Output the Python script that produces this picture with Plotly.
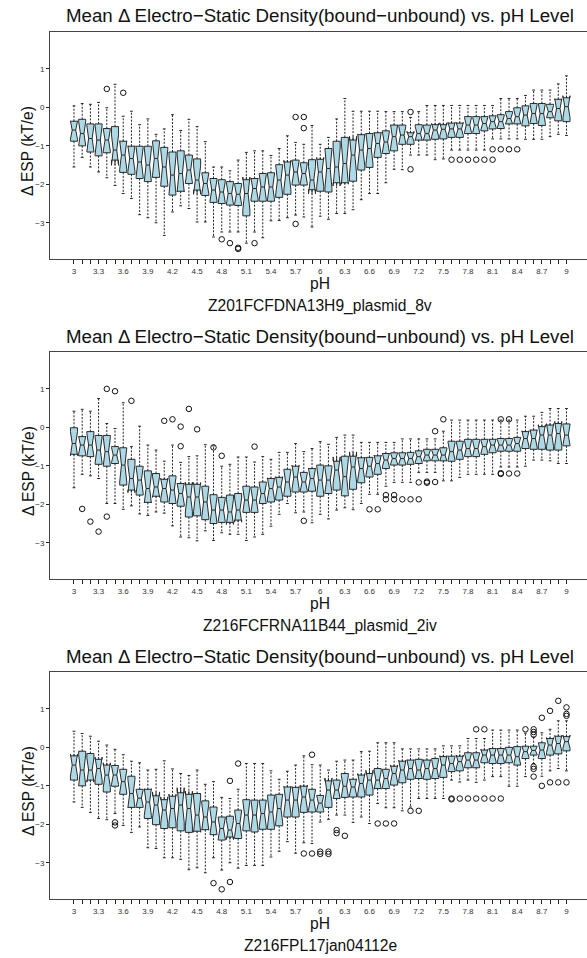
import plotly.graph_objects as go

# ---------------- data ----------------
ph = [3.0, 3.1, 3.2, 3.3, 3.4, 3.5, 3.6, 3.7, 3.8, 3.9,
      4.0, 4.1, 4.2, 4.3, 4.4, 4.5, 4.6, 4.7, 4.8, 4.9,
      5.0, 5.1, 5.2, 5.3, 5.4, 5.5, 5.6, 5.7, 5.8, 5.9,
      6.0, 6.1, 6.2, 6.3, 6.4, 6.5, 6.6, 6.7, 6.8, 6.9,
      7.0, 7.1, 7.2, 7.3, 7.4, 7.5, 7.6, 7.7, 7.8, 7.9,
      8.0, 8.1, 8.2, 8.3, 8.4, 8.5, 8.6, 8.7, 8.8, 8.9, 9.0]

y_ticks = [-3, -2, -1, 0, 1]

main_title = "Mean \u0394 Electro\u2212Static Density(bound\u2212unbound) vs. pH Level"
x_title = "pH"
y_title = "\u0394 ESP (kT/e)"
dataset_names = ["Z201FCFDNA13H9_plasmid_8v", "Z216FCFRNA11B44_plasmid_2iv", "Z216FPL17jan04112e"]

# ---- panel 1 ----
p1_lo = [-1.55, -1.30, -1.55, -1.68, -1.83, -2.03, -2.24, -2.37, -2.79, -2.87,
         -3.00, -3.33, -2.72, -2.56, -2.63, -2.98, -2.98, -3.37, -3.24, -3.24,
         -3.24, -3.53, -3.24, -3.39, -2.95, -2.94, -2.87, -2.80, -2.85, -3.11,
         -2.83, -2.91, -2.76, -2.76, -2.66, -2.40, -2.24, -2.24, -1.96, -1.61,
         -1.62, -1.24, -1.24, -1.24, -1.36, -1.34, -1.11, -1.11, -1.11, -1.11,
         -1.11, -0.82, -0.82, -0.82, -0.82, -0.83, -0.83, -0.83, -0.76, -0.70, -0.73]
p1_q1 = [-0.88, -1.00, -1.16, -1.26, -1.18, -1.37, -1.69, -1.74, -1.85, -1.93,
         -1.82, -2.05, -2.28, -2.18, -1.98, -2.15, -2.29, -2.47, -2.50, -2.54,
         -2.55, -2.82, -2.44, -2.44, -2.44, -2.34, -2.26, -2.02, -2.02, -2.14,
         -2.18, -2.20, -1.96, -1.96, -1.92, -1.63, -1.56, -1.30, -1.20, -1.13,
         -0.96, -0.96, -0.85, -0.85, -0.83, -0.82, -0.78, -0.78, -0.68, -0.68,
         -0.61, -0.56, -0.55, -0.43, -0.43, -0.48, -0.42, -0.47, -0.27, -0.35, -0.37]
p1_med = [-0.59, -0.68, -0.81, -0.85, -0.85, -1.11, -1.24, -1.33, -1.42, -1.50,
          -1.33, -1.55, -1.76, -1.72, -1.63, -1.89, -1.98, -2.15, -2.20, -2.24,
          -2.26, -2.24, -2.11, -2.07, -2.07, -1.89, -1.76, -1.68, -1.72, -1.89,
          -1.68, -1.59, -1.55, -1.46, -1.24, -1.11, -1.07, -0.94, -0.90, -0.76,
          -0.72, -0.76, -0.68, -0.68, -0.59, -0.57, -0.56, -0.56, -0.46, -0.46,
          -0.42, -0.37, -0.37, -0.29, -0.24, -0.20, -0.16, -0.16, -0.11, -0.03, 0.02]
p1_q3 = [-0.36, -0.31, -0.43, -0.43, -0.55, -0.50, -0.88, -1.01, -1.01, -1.01,
         -0.87, -1.04, -1.16, -1.13, -1.24, -1.34, -1.70, -1.85, -1.88, -1.93,
         -1.98, -1.88, -1.85, -1.72, -1.70, -1.49, -1.42, -1.37, -1.44, -1.36,
         -1.35, -1.07, -0.88, -0.78, -0.85, -0.71, -0.68, -0.66, -0.61, -0.46,
         -0.46, -0.66, -0.45, -0.46, -0.45, -0.45, -0.41, -0.41, -0.24, -0.24,
         -0.24, -0.22, -0.19, -0.11, -0.01, 0.04, 0.10, 0.10, 0.08, 0.21, 0.25]
p1_hi = [0.04, 0.10, 0.08, 0.13, -0.01, 0.60, -0.23, -0.10, -0.45, -0.30,
         -0.70, -0.56, -0.19, -0.60, -0.31, -0.50, -0.89, -1.55, -1.55, -1.65,
         -1.37, -1.17, -1.13, -1.13, -1.25, -1.07, -0.74, -0.91, -0.96, -0.47,
         -0.96, -0.78, -0.30, 0.23, -0.10, -0.10, -0.10, -0.10, -0.11, -0.11,
         -0.11, -0.26, -0.11, 0.05, 0.05, 0.05, 0.05, 0.05, 0.05, 0.05,
         0.05, 0.05, 0.23, 0.23, 0.23, 0.31, 0.45, 0.45, 0.45, 0.61, 0.82]
p1_out_ph = [3.4, 3.6, 4.8, 4.9, 5.0, 5.0, 5.2, 5.7, 5.7, 5.8, 5.8, 7.1, 7.1,
             7.6, 7.7, 7.8, 7.9, 8.0, 8.1, 8.1, 8.2, 8.3, 8.4]
p1_out_val = [0.48, 0.38, -3.43, -3.53, -3.65, -3.68, -3.53, -0.25, -3.03, -0.25, -0.54, -0.12, -1.61,
              -1.36, -1.36, -1.36, -1.36, -1.36, -1.36, -1.09, -1.09, -1.09, -1.09]

# ---- panel 2 ----
p2_lo = [-1.57, -1.22, -1.26, -1.33, -1.98, -1.98, -2.13, -2.04, -2.25, -2.29,
         -2.20, -2.23, -2.56, -2.85, -2.87, -2.95, -2.69, -2.94, -2.74, -2.78,
         -2.78, -2.94, -2.85, -2.78, -2.57, -2.26, -1.98, -2.22, -2.20, -2.48,
         -2.26, -2.38, -2.15, -2.09, -2.14, -1.98, -1.74, -1.74, -1.53, -1.43,
         -1.43, -1.43, -1.17, -1.17, -1.17, -1.39, -1.39, -1.30, -1.22, -1.22,
         -1.22, -1.22, -1.03, -1.03, -1.03, -1.01, -0.85, -0.85, -0.87, -0.94, -0.94]
p2_q1 = [-0.70, -0.74, -0.76, -0.96, -1.01, -0.94, -1.50, -1.63, -1.76, -1.95,
         -1.79, -1.94, -1.98, -2.05, -2.33, -2.30, -2.40, -2.50, -2.47, -2.47,
         -2.41, -2.21, -2.21, -1.98, -1.94, -1.89, -1.79, -1.68, -1.68, -1.66,
         -1.79, -1.72, -1.63, -1.78, -1.61, -1.44, -1.29, -1.22, -1.07, -0.98,
         -0.98, -0.96, -0.94, -0.87, -0.87, -0.87, -0.88, -0.83, -0.76, -0.76,
         -0.70, -0.66, -0.62, -0.62, -0.62, -0.55, -0.57, -0.57, -0.59, -0.59, -0.48]
p2_med = [-0.42, -0.46, -0.46, -0.59, -0.63, -0.72, -0.98, -1.33, -1.37, -1.59,
          -1.55, -1.59, -1.63, -1.72, -1.81, -1.81, -1.94, -2.15, -2.15, -2.20,
          -2.15, -1.89, -1.89, -1.72, -1.59, -1.55, -1.42, -1.29, -1.42, -1.33,
          -1.37, -1.37, -1.11, -1.28, -1.03, -1.07, -1.01, -0.94, -0.85, -0.81,
          -0.81, -0.81, -0.76, -0.72, -0.72, -0.72, -0.63, -0.59, -0.55, -0.55,
          -0.50, -0.46, -0.46, -0.46, -0.42, -0.29, -0.29, -0.20, -0.20, -0.16, -0.20]
p2_q3 = [-0.01, -0.24, -0.11, -0.21, -0.21, -0.50, -0.53, -0.83, -1.01, -1.13,
         -1.20, -1.35, -1.26, -1.46, -1.48, -1.48, -1.53, -1.75, -1.82, -1.76,
         -1.72, -1.53, -1.55, -1.42, -1.33, -1.30, -1.09, -1.01, -1.17, -1.07,
         -0.98, -1.00, -0.88, -0.75, -0.75, -0.79, -0.78, -0.74, -0.68, -0.66,
         -0.66, -0.65, -0.61, -0.57, -0.57, -0.53, -0.36, -0.36, -0.31, -0.31,
         -0.31, -0.31, -0.29, -0.29, -0.26, -0.11, -0.07, 0.02, 0.06, 0.10, 0.09]
p2_hi = [0.42, 0.47, 0.42, 0.75, 0.10, -0.03, 0.64, -0.50, 0.03, -0.46,
         -0.59, -0.88, -0.46, -0.91, -0.76, -0.74, -0.45, -0.48, -1.01, -0.96,
         -0.77, -0.77, -0.90, -0.76, -0.83, -0.65, -0.65, -0.42, -0.63, -0.55,
         -0.37, -0.44, -0.26, -0.20, -0.20, -0.39, -0.39, -0.39, -0.39, -0.39,
         -0.30, -0.30, -0.30, -0.30, -0.30, -0.10, 0.19, 0.19, 0.19, 0.19,
         0.19, 0.19, 0.19, 0.19, 0.19, 0.29, 0.29, 0.39, 0.49, 0.49, 0.49]
p2_out_ph = [3.1, 3.2, 3.3, 3.4, 3.4, 3.5, 3.7, 4.1, 4.2, 4.3, 4.3, 4.4, 4.5, 4.7, 4.8, 5.2, 5.8,
             6.6, 6.7, 6.8, 6.8, 6.9, 6.9, 7.0, 7.1, 7.2, 7.2, 7.3, 7.3, 7.4, 7.4, 7.5,
             8.2, 8.2, 8.2, 8.3, 8.3, 8.4]
p2_out_val = [-2.12, -2.45, -2.71, 1.00, -2.32, 0.94, 0.69, 0.17, 0.21, 0.02, -0.49, 0.48, -0.05, -0.52, -0.74, -0.50, -2.43,
              -2.13, -2.13, -1.76, -1.87, -1.76, -1.87, -1.87, -1.87, -1.87, -1.43, -1.41, -1.44, -1.42, -0.10, 0.21,
              0.21, -1.19, -1.21, 0.21, -1.20, -1.20]

# ---- panel 3 ----
p3_lo = [-1.42, -1.56, -1.69, -1.85, -1.88, -1.72, -2.03, -2.21, -2.07, -2.61,
         -2.63, -2.87, -2.87, -2.91, -3.18, -3.13, -3.26, -2.87, -3.19, -3.00,
         -3.14, -3.07, -3.07, -3.07, -2.85, -2.70, -2.45, -2.75, -2.48, -2.50,
         -1.94, -1.87, -1.76, -1.76, -1.95, -1.81, -1.98, -1.46, -1.57, -1.57,
         -1.65, -1.55, -1.33, -1.33, -1.33, -1.33, -0.85, -0.90, -0.85, -0.91,
         -0.85, -0.76, -0.76, -1.01, -1.01, -0.76, -0.42, -0.75, -0.61, -0.55, -0.61]
p3_q1 = [-0.85, -1.00, -0.85, -0.96, -1.16, -1.01, -1.22, -1.56, -1.56, -1.85,
         -2.01, -2.11, -2.09, -2.17, -2.21, -2.18, -2.14, -2.27, -2.41, -2.33,
         -2.37, -2.17, -2.20, -2.13, -2.13, -2.04, -1.81, -1.81, -1.69, -1.68,
         -1.68, -1.56, -1.33, -1.30, -1.29, -1.29, -1.24, -1.07, -1.07, -0.98,
         -0.92, -0.83, -0.81, -0.83, -0.81, -0.78, -0.63, -0.61, -0.53, -0.53,
         -0.40, -0.42, -0.42, -0.40, -0.46, -0.29, -0.20, -0.29, -0.20, -0.17, -0.09]
p3_med = [-0.46, -0.59, -0.59, -0.55, -0.72, -0.72, -0.89, -1.20, -1.32, -1.42,
          -1.50, -1.63, -1.59, -1.50, -1.59, -1.76, -1.81, -1.94, -2.11, -2.15,
          -1.98, -1.76, -1.76, -1.72, -1.68, -1.59, -1.37, -1.37, -1.29, -1.37,
          -1.45, -1.11, -1.11, -1.01, -1.03, -0.94, -0.85, -0.85, -0.81, -0.68,
          -0.59, -0.55, -0.59, -0.55, -0.55, -0.46, -0.42, -0.37, -0.33, -0.33,
          -0.20, -0.20, -0.20, -0.20, -0.24, -0.11, -0.08, -0.07, 0.06, 0.10, 0.15]
p3_q3 = [-0.22, -0.10, -0.16, -0.31, -0.46, -0.47, -0.57, -0.75, -1.09, -1.09,
         -1.26, -1.36, -1.27, -1.18, -1.22, -1.20, -1.39, -1.55, -1.81, -1.79,
         -1.63, -1.36, -1.37, -1.37, -1.24, -1.22, -1.03, -1.04, -1.01, -1.09,
         -1.25, -0.87, -0.85, -0.68, -0.83, -0.72, -0.68, -0.55, -0.57, -0.49,
         -0.36, -0.33, -0.31, -0.33, -0.29, -0.24, -0.23, -0.23, -0.14, -0.14,
         -0.07, -0.03, -0.03, 0.00, 0.02, 0.03, 0.03, 0.12, 0.23, 0.29, 0.28]
p3_hi = [0.42, 0.36, 0.29, 0.16, 0.06, -0.05, -0.19, -0.36, -0.40, -0.59,
         -0.57, -0.35, -0.56, -0.68, -0.73, -0.59, -0.96, -0.89, -1.30, -1.33,
         -1.09, -0.42, -0.42, -0.42, -0.61, -0.83, -0.62, -0.46, -0.22, -0.45,
         -0.46, -0.59, -0.36, -0.33, -0.33, -0.11, -0.10, 0.12, 0.12, 0.12,
         -0.04, -0.04, -0.04, -0.04, -0.04, 0.04, 0.04, 0.04, 0.23, 0.23,
         0.23, 0.45, 0.45, 0.45, 0.45, 0.37, 0.27, 0.38, 0.47, 0.69, 0.69]
p3_out_ph = [3.5, 3.5, 4.7, 4.8, 4.9, 4.9, 5.0, 5.8, 5.9, 5.9, 6.0, 6.0, 6.1, 6.1, 6.2, 6.2, 6.3,
             6.7, 6.8, 6.9, 7.1, 7.2, 7.6, 7.6, 7.7, 7.8, 7.9, 8.0, 8.1, 8.2, 7.9, 8.0,
             8.5, 8.6, 8.6, 8.6, 8.6, 8.6, 8.6, 8.7, 8.7, 8.8, 8.8, 8.9, 8.9, 9.0, 9.0, 9.0, 9.0]
p3_out_val = [-1.95, -2.03, -3.53, -3.69, -3.50, -0.87, -0.42, -2.76, -0.19, -2.76, -2.71, -2.77, -2.71, -2.77, -2.15, -2.23, -2.30,
              -1.98, -1.98, -1.98, -1.65, -1.65, -1.33, -1.35, -1.33, -1.33, -1.33, -1.33, -1.33, -1.33, 0.47, 0.47,
              0.47, 0.47, 0.40, 0.33, -0.50, -0.56, -0.76, 0.77, -1.00, 0.95, -0.91, 1.21, -0.91, 1.04, 0.87, 0.82, -0.91]

panels = [
    dict(lo=p1_lo, q1=p1_q1, med=p1_med, q3=p1_q3, hi=p1_hi, ox=p1_out_ph, oy=p1_out_val, name=dataset_names[0]),
    dict(lo=p2_lo, q1=p2_q1, med=p2_med, q3=p2_q3, hi=p2_hi, ox=p2_out_ph, oy=p2_out_val, name=dataset_names[1]),
    dict(lo=p3_lo, q1=p3_q1, med=p3_med, q3=p3_q3, hi=p3_hi, ox=p3_out_ph, oy=p3_out_val, name=dataset_names[2]),
]

# ---------------- layout geometry (pixels) ----------------
W, H = 587, 958
PLOT_LEFT = 50
PANEL_H = 320
PLOT_TOP = 32
PLOT_BOTTOM = 259.3
X_RANGE = [-2.92, 62.5]
Y_RANGE = [-3.95, 1.96]
NOTCH_N = 12          # assumed sample size for notch half-width 1.58*IQR/sqrt(n)
BOX_W = 0.86
CAP_HALF = 0.17

FONT = "Liberation Sans, Arial, Helvetica, sans-serif"
FILL = "#ADD8E6"
EDGE = "#2a2a2a"

pos_of = {p: i for i, p in enumerate(ph)}
positions = list(range(len(ph)))
tick_text = [("%g" % p) if i % 3 == 0 else "" for i, p in enumerate(ph)]


def py(px):
    return 1 - px / H


fig = go.Figure()
annotations = []

for k, pnl in enumerate(panels):
    sfx = "" if k == 0 else str(k + 1)
    xa, ya = "x" + sfx, "y" + sfx
    off = PANEL_H * k

    notch = [1.58 * (b - a) / NOTCH_N ** 0.5 for a, b in zip(pnl["q1"], pnl["q3"])]

    # dashed whiskers
    wx, wy = [], []
    for i in positions:
        wx += [i, i, None, i, i, None]
        wy += [pnl["q1"][i], pnl["lo"][i], None, pnl["q3"][i], pnl["hi"][i], None]
    fig.add_trace(go.Scatter(x=wx, y=wy, mode="lines", xaxis=xa, yaxis=ya,
                             line=dict(color="#222", width=1, dash="2px,1.5px"),
                             hoverinfo="skip", showlegend=False))
    # staples
    cx, cy = [], []
    for i in positions:
        for v in (pnl["lo"][i], pnl["hi"][i]):
            cx += [i - CAP_HALF, i + CAP_HALF, None]
            cy += [v, v, None]
    fig.add_trace(go.Scatter(x=cx, y=cy, mode="lines", xaxis=xa, yaxis=ya,
                             line=dict(color="#222", width=1),
                             hoverinfo="skip", showlegend=False))

    fig.add_trace(go.Box(
        x=positions, q1=pnl["q1"], median=pnl["med"], q3=pnl["q3"],
        lowerfence=pnl["q1"], upperfence=pnl["q3"],
        notched=True, notchspan=notch, notchwidth=0.25, width=BOX_W,
        fillcolor=FILL, line=dict(color=EDGE, width=1), whiskerwidth=0,
        boxpoints=False, xaxis=xa, yaxis=ya, hoverinfo="skip", showlegend=False))

    fig.add_trace(go.Scatter(
        x=[pos_of[p] for p in pnl["ox"]], y=pnl["oy"], mode="markers", xaxis=xa, yaxis=ya,
        marker=dict(symbol="circle-open", size=5.5, color="#111", line=dict(width=1, color="#111")),
        hoverinfo="skip", showlegend=False))

    ydom = [py(PLOT_BOTTOM + off), py(PLOT_TOP + off)]
    fig.update_layout(**{
        "xaxis" + sfx: dict(domain=[PLOT_LEFT / W, 1], range=X_RANGE, anchor=ya,
                            tickmode="array", tickvals=positions, ticktext=tick_text,
                            ticks="outside", ticklen=4, tickwidth=1, tickcolor="#222",
                            showline=True, mirror=True, linecolor="#444", linewidth=1,
                            showgrid=False, zeroline=False, fixedrange=True,
                            tickfont=dict(family=FONT, size=8, color="#333")),
        "yaxis" + sfx: dict(domain=ydom, range=Y_RANGE, anchor=xa,
                            tickmode="array", tickvals=y_ticks,
                            ticks="outside", ticklen=3, tickwidth=1, tickcolor="#222",
                            showline=True, linecolor="#444", linewidth=1,
                            showgrid=False, zeroline=False, fixedrange=True,
                            tickfont=dict(family=FONT, size=8, color="#333")),
    })

    annotations += [
        dict(text=main_title, x=319.5 / W, y=py(16 + off), xref="paper", yref="paper",
             showarrow=False, xanchor="center", yanchor="middle",
             font=dict(family=FONT, size=18.7, color="#111")),
        dict(text=x_title, x=320 / W, y=py(283 + off), xref="paper", yref="paper",
             showarrow=False, xanchor="center", yanchor="middle",
             font=dict(family=FONT, size=15.6, color="#111")),
        dict(text=pnl["name"], x=320 / W, y=py(305.5 + off), xref="paper", yref="paper",
             showarrow=False, xanchor="center", yanchor="middle",
             font=dict(family=FONT, size=15.6, color="#111")),
        dict(text=y_title, x=28 / W, y=py(151 + off), xref="paper", yref="paper",
             showarrow=False, xanchor="center", yanchor="middle", textangle=-90,
             font=dict(family=FONT, size=15.6, color="#111")),
    ]

fig.update_layout(width=W, height=H, margin=dict(l=0, r=0, t=0, b=0),
                  paper_bgcolor="white", plot_bgcolor="white",
                  annotations=annotations, showlegend=False, hovermode=False)

fig.write_html("out.html",
               config={"displayModeBar": False, "staticPlot": True},
               post_script="document.body.style.margin='0';document.body.style.padding='0';"
                           "document.documentElement.style.overflow='hidden';")
